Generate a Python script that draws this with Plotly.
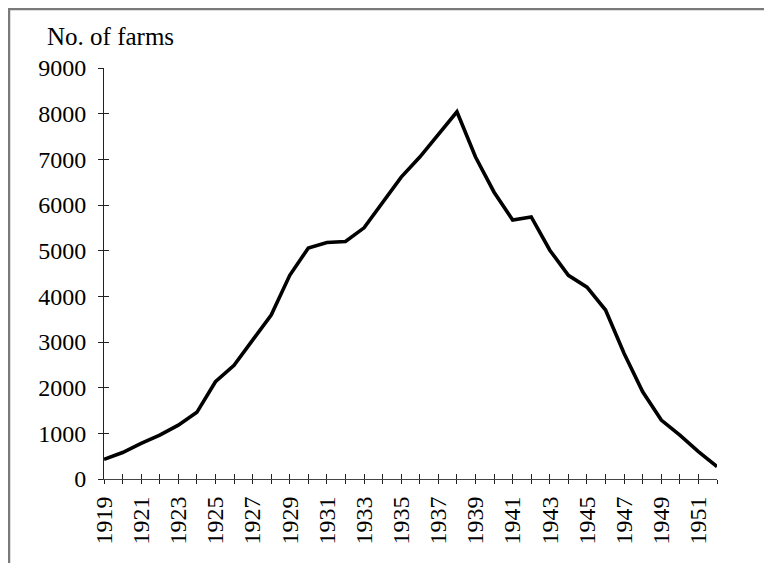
import plotly.graph_objects as go

years = list(range(1919, 1953))
farms = [430, 580, 780, 960, 1180, 1460, 2130, 2490, 3040, 3590,
         4460, 5060, 5180, 5200, 5500, 6070, 6610, 7050, 7560, 8040,
         7050, 6280, 5670, 5740, 5010, 4460, 4200, 3700, 2750, 1910,
         1290, 960, 600, 270]
y_ticks = [0, 1000, 2000, 3000, 4000, 5000, 6000, 7000, 8000, 9000]
x_label_years = list(range(1919, 1953, 2))

FONT = "Liberation Serif, Times New Roman, serif"
# page body has an 8px default margin, so the figure sits at (8, 8)
OFF = 8
W, H = 772 - OFF, 571 - 2 * OFF
L, T = 104 - OFF, 68 - OFF
R = W - (717 - OFF)
B = H - (479 - OFF)

fig = go.Figure()
fig.add_trace(go.Scatter(x=years, y=farms, mode="lines",
                         line=dict(color="black", width=3.6),
                         showlegend=False, hoverinfo="skip"))
# invisible helper trace so the overlay axes (inside half of the cross ticks) render
fig.add_trace(go.Scatter(x=[years[0]], y=[0], xaxis="x2", yaxis="y2",
                         mode="markers", marker=dict(opacity=0),
                         showlegend=False, hoverinfo="skip"))

tick_col = "#222"
fig.update_layout(
    width=W, height=H,
    margin=dict(l=L, r=R, t=T, b=B, autoexpand=False),
    paper_bgcolor="white", plot_bgcolor="white",
    font=dict(family=FONT, size=24, color="black"),
    xaxis=dict(range=[1919, 1952], tickmode="array",
               tickvals=x_label_years, ticktext=[str(v) for v in x_label_years],
               tickangle=-90, ticks="outside", ticklen=4, tickcolor=tick_col,
               tickwidth=1, ticklabelstandoff=3,
               minor=dict(tickmode="linear", tick0=1919, dtick=1, ticks="outside",
                          ticklen=4, tickcolor=tick_col, tickwidth=1, showgrid=False),
               showline=True, linecolor="#444", linewidth=1,
               showgrid=False, zeroline=False,
               tickfont=dict(family=FONT, size=24, color="black")),
    yaxis=dict(range=[0, 9000], tickmode="array", tickvals=y_ticks,
               ticks="outside", ticklen=5, tickcolor=tick_col, tickwidth=1,
               showline=True, linecolor="#222", linewidth=1,
               showgrid=False, zeroline=False, ticklabelstandoff=7,
               tickfont=dict(family=FONT, size=24, color="black")),
    xaxis2=dict(range=[1919, 1952], overlaying="x", anchor="y",
                tickmode="linear", tick0=1919, dtick=1, ticks="inside",
                ticklen=5, tickcolor=tick_col, showticklabels=False,
                showline=False, showgrid=False, zeroline=False),
    yaxis2=dict(range=[0, 9000], overlaying="y", anchor="x", side="left",
                tickmode="array", tickvals=y_ticks, ticks="inside",
                ticklen=5, tickcolor=tick_col, showticklabels=False,
                showline=False, showgrid=False, zeroline=False),
)

# frame lines (top and left) of the original figure box
pw, ph = W - L - R, H - T - B
px_x = lambda p: (p - OFF - L) / pw
px_y = lambda p: (H - B - (p - OFF)) / ph
fig.add_shape(type="line", xref="paper", yref="paper",
              x0=px_x(7), x1=px_x(800), y0=px_y(9), y1=px_y(9),
              line=dict(color="#7a7a7a", width=2.5))
fig.add_shape(type="line", xref="paper", yref="paper",
              x0=px_x(9), x1=px_x(9), y0=px_y(8), y1=px_y(600),
              line=dict(color="#7a7a7a", width=2.5))

fig.add_annotation(text="No. of farms", xref="paper", yref="paper",
                   x=px_x(45), y=px_y(37), xanchor="left", yanchor="middle",
                   showarrow=False, font=dict(family=FONT, size=25, color="black"))

fig.write_html("out.html")
